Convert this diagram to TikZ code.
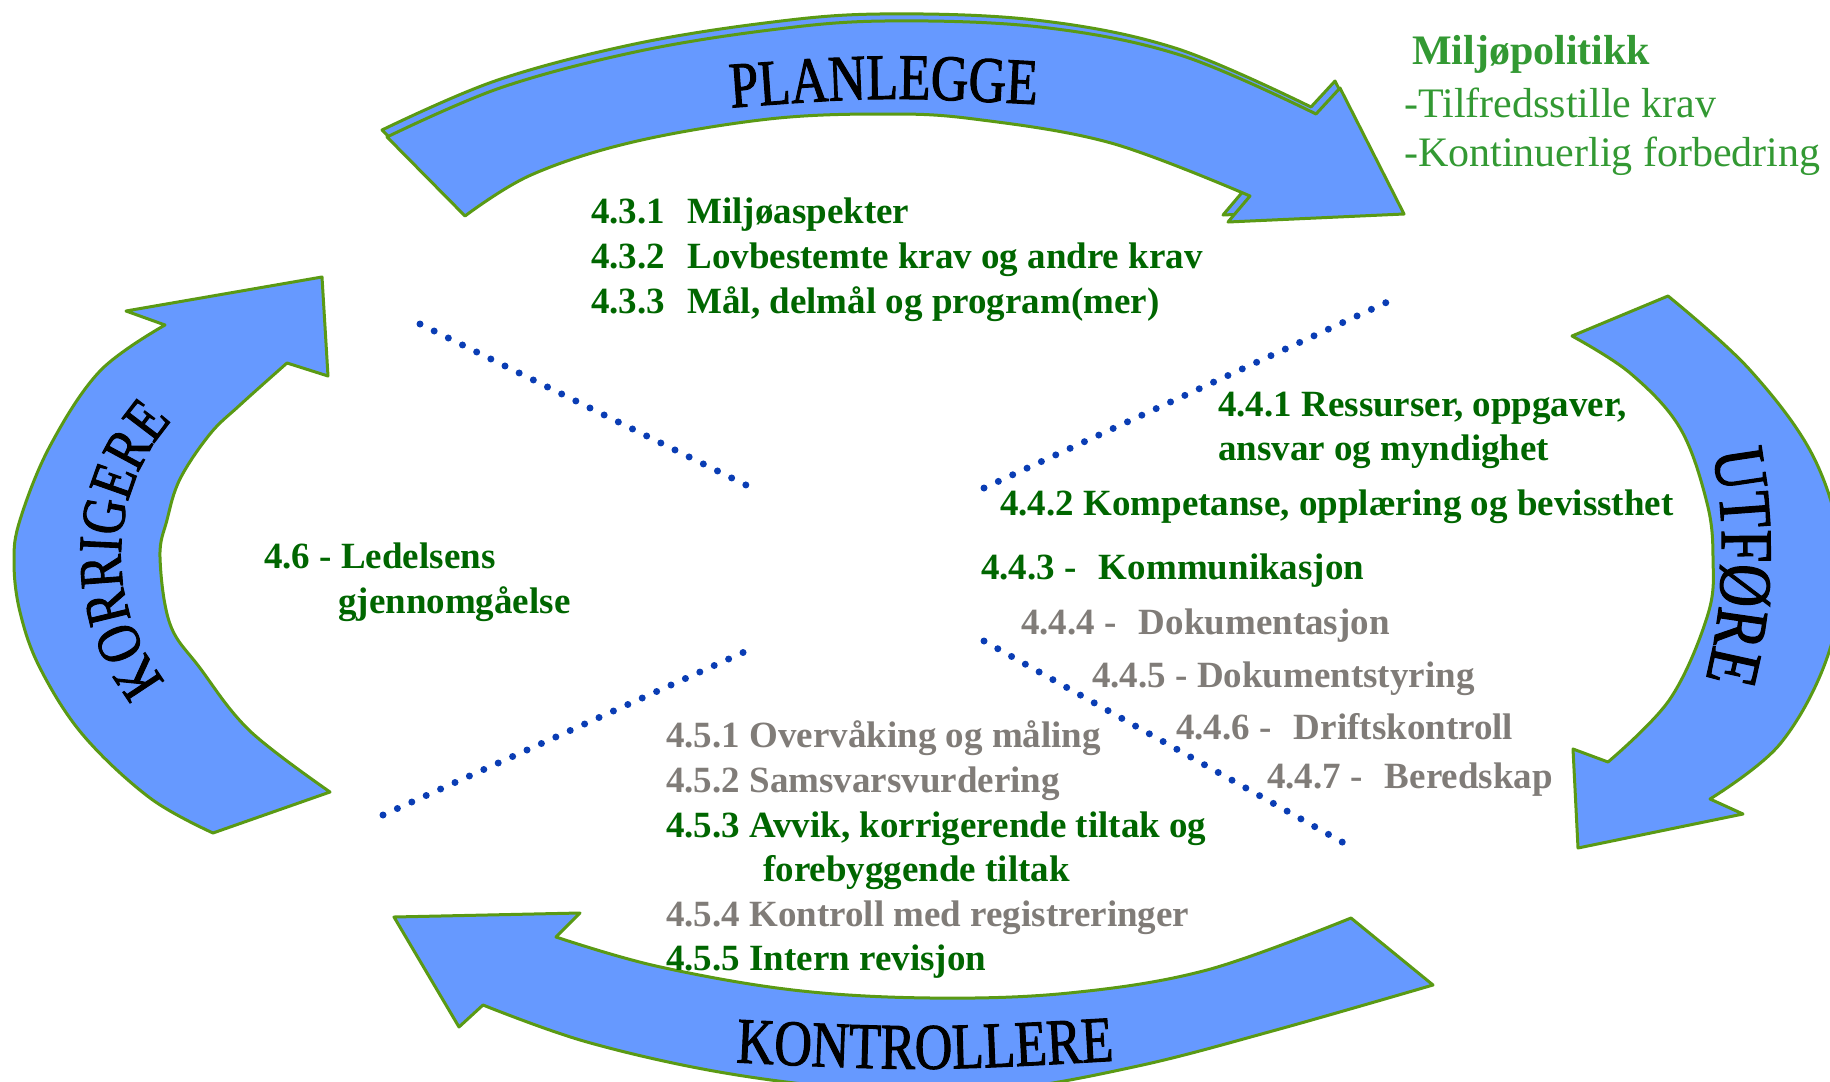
\documentclass[tikz,border=0pt]{standalone}
\usepackage{fontspec}
\setmainfont{Liberation Serif}
\newfontfamily\wordart[FakeStretch=0.8,FakeBold=1.5]{Liberation Serif}
\usetikzlibrary{decorations.text}
\definecolor{arrowfill}{HTML}{6699FF}
\definecolor{arrowline}{HTML}{5A9A14}
\definecolor{dkgreen}{HTML}{006600}
\definecolor{ltgreen}{HTML}{339933}
\definecolor{itemgray}{HTML}{807C78}
\definecolor{dotblue}{HTML}{0A3DB4}
\begin{document}
\begin{tikzpicture}[x=1pt,y=-1pt,
  bigarrow/.style={fill=arrowfill, draw=arrowline, line width=3pt, line join=round},
  dotline/.style={draw=dotblue, line width=7pt, line cap=round, dash pattern=on 0pt off 15.8pt},
  item/.style={anchor=base west, inner sep=0pt, font=\fontsize{37}{44}\selectfont\bfseries},
  policy/.style={anchor=base west, inner sep=0pt, text=ltgreen, font=\fontsize{42}{49}\selectfont},
  sm/.style={smooth, tension=0.6}
]
\useasboundingbox (0,0) rectangle (1830,1081);

% ---------- PLANLEGGE (top) arrow, with back copy ----------
\foreach \dx/\dy in {-5/-7, 0/0} {
  \draw[bigarrow, shift={(\dx,\dy)}]
    plot[sm] coordinates {(387,137) (500,88) (635,52) (770,30) (885,21) (1040,27) (1180,55) (1316,114)}
    -- (1340,88) -- (1404,214) -- (1228,222) -- (1250,196)
    -- plot[sm] coordinates {(1250,196) (1111,143) (974,119) (885,114) (769,119) (633,142) (531,175) (465,216)}
    -- cycle;
}

% ---------- UTFORE (right) arrow ----------
\draw[bigarrow]
  (1572,336) -- (1668,296)
  -- plot[sm] coordinates {(1668,296) (1750,370) (1815,460) (1842,560) (1828,655) (1780,744) (1710,799)}
  -- (1743,814) -- (1578,848) -- (1573,749) -- (1608,762)
  -- plot[sm] coordinates {(1608,762) (1670,699) (1708,614) (1713,558) (1707,503) (1680,428) (1630,373) (1572,336)}
  -- cycle;

% ---------- KORRIGERE (left) arrow ----------
\draw[bigarrow]
  (322,277) -- (328,376) -- (287,363)
  -- plot[sm] coordinates {(287,363) (240,405) (210,434) (180,479) (167,520) (160,557) (170,624) (200,668) (250,731) (330,792)}
  -- (213,833)
  -- plot[sm] coordinates {(213,833) (150,798) (83,735) (40,668) (20,612) (14,562) (20,520) (50,446) (100,371) (165,325)}
  -- (126,311) -- cycle;

% ---------- KONTROLLERE (bottom) arrow ----------
\draw[bigarrow]
  (394,917) -- (580,913) -- (556,937)
  -- plot[sm] coordinates {(556,937) (656,966) (793,990) (931,998) (1069,993) (1207,970) (1351,918)}
  -- (1433,985)
  -- plot[sm] coordinates {(1433,985) (1276,1030) (1138,1066) (1000,1090) (870,1090) (725,1073) (587,1042) (483,1005)}
  -- (459,1027) -- cycle;

% ---------- arrow labels ----------
\path[decorate, decoration={text along path, text align=center,
  text={|\wordart\fontsize{65}{65}\selectfont|PLANLEGGE}}]
  (700,110) .. controls (884,96) .. (1068,106);
\path[decorate, decoration={text along path, text align=center,
  text={|\wordart\fontsize{74}{74}\selectfont|UTFØRE}}]
  ([shift={(-20:522)}]1200,550) arc[start angle=-20, end angle=23.5, radius=522];
\path[decorate, decoration={text along path, text align=center,
  text={|\wordart\fontsize{62}{62}\selectfont|KORRIGERE}}]
  ([shift={(-232:203)}]324,555) arc[start angle=-232, end angle=-125, radius=203];
\path[decorate, decoration={text along path, text align=center,
  text={|\wordart\fontsize{65}{65}\selectfont|KONTROLLERE}}]
  (690,1060) .. controls (925,1072) .. (1160,1058);

% ---------- dotted lines ----------
\coordinate (d1a) at (420,324); \coordinate (d1b) at (754,489);
\coordinate (d2a) at (984,488); \coordinate (d2b) at (1396,298);
\coordinate (d3a) at (383,815); \coordinate (d3b) at (753,648);
\coordinate (d4a) at (984,641); \coordinate (d4b) at (1351,847);
\draw[dotline] (d1a) -- (d1b);
\draw[dotline] (d2a) -- (d2b);
\draw[dotline] (d3a) -- (d3b);
\draw[dotline] (d4a) -- (d4b);

% ---------- policy text ----------
\node[policy, font=\fontsize{42}{49}\selectfont\bfseries] (pol) at (1412,64) {Miljøpolitikk};
\node[policy] (pol1) at (1404,117) {-Tilfredsstille krav};
\node[policy] (pol2) at (1404,166) {-Kontinuerlig forbedring};

% ---------- 4.3 ----------
\node[item, text=dkgreen] (t431) at (591,223) {4.3.1\hspace{0.6em}Miljøaspekter};
\node[item, text=dkgreen] (t432) at (591,268) {4.3.2\hspace{0.6em}Lovbestemte krav og andre krav};
\node[item, text=dkgreen] (t433) at (591,313) {4.3.3\hspace{0.6em}Mål, delmål og program(mer)};

% ---------- 4.4 ----------
\node[item, text=dkgreen] (t441) at (1218,416) {4.4.1 Ressurser, oppgaver,};
\node[item, text=dkgreen] (t441b) at (1218,460) {ansvar og myndighet};
\node[item, text=dkgreen] (t442) at (1000,515) {4.4.2 Kompetanse, opplæring og bevissthet};
\node[item, text=dkgreen] (t443) at (981,579) {4.4.3 -\hspace{0.6em}Kommunikasjon};
\node[item, text=itemgray] (t444) at (1021,634) {4.4.4 -\hspace{0.6em}Dokumentasjon};
\node[item, text=itemgray] (t445) at (1092,687) {4.4.5 - Dokumentstyring};
\node[item, text=itemgray] (t446) at (1176,739) {4.4.6 -\hspace{0.6em}Driftskontroll};
\node[item, text=itemgray] (t447) at (1267,788) {4.4.7 -\hspace{0.6em}Beredskap};

% ---------- 4.6 ----------
\node[item, text=dkgreen] (t46) at (264,568) {4.6 - Ledelsens};
\node[item, text=dkgreen] (t46b) at (338,613) {gjennomgåelse};

% ---------- 4.5 ----------
\node[item, text=itemgray] (t451) at (666,747) {4.5.1 Overvåking og måling};
\node[item, text=itemgray] (t452) at (666,792) {4.5.2 Samsvarsvurdering};
\node[item, text=dkgreen] (t453) at (666,837) {4.5.3 Avvik, korrigerende tiltak og};
\node[item, text=dkgreen] (t453b) at (763,881) {forebyggende tiltak};
\node[item, text=itemgray] (t454) at (666,926) {4.5.4 Kontroll med registreringer};
\node[item, text=dkgreen] (t455) at (666,970) {4.5.5 Intern revisjon};
\end{tikzpicture}
\end{document}
